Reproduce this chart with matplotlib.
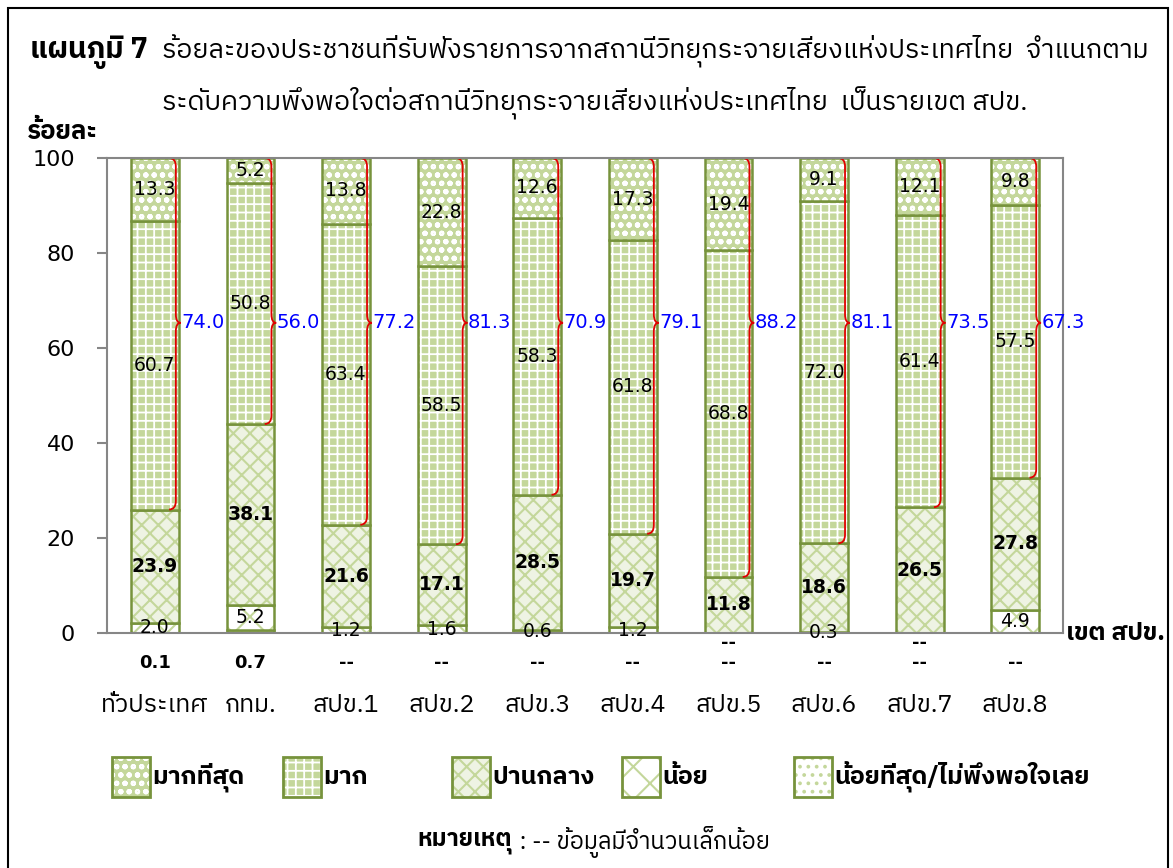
import matplotlib
matplotlib.use('Agg')
import matplotlib.pyplot as plt
from matplotlib import font_manager
from matplotlib.ft2font import FT2Font
from matplotlib.path import Path
from matplotlib.patches import PathPatch, Rectangle

# ข้อมูล (ร้อยละ) อ่านจากแผนภูมิ  None = "--" ข้อมูลมีจำนวนเล็กน้อย
categories = ['ทั่วประเทศ', 'กทม.', 'สปข.1', 'สปข.2', 'สปข.3',
              'สปข.4', 'สปข.5', 'สปข.6', 'สปข.7', 'สปข.8']
most = [13.3, 5.2, 13.8, 22.8, 12.6, 17.3, 19.4, 9.1, 12.1, 9.8]
much = [60.7, 50.8, 63.4, 58.5, 58.3, 61.8, 68.8, 72.0, 61.4, 57.5]
medium = [23.9, 38.1, 21.6, 17.1, 28.5, 19.7, 11.8, 18.6, 26.5, 27.8]
little = [2.0, 5.2, 1.2, 1.6, 0.6, 1.2, None, 0.3, None, 4.9]
least = [0.1, 0.7, None, None, None, None, None, None, None, None]
top_two = [74.0, 56.0, 77.2, 81.3, 70.9, 79.1, 88.2, 81.1, 73.5, 67.3]

legend_labels = ['มากที่สุด', 'มาก', 'ปานกลาง', 'น้อย', 'น้อยที่สุด/ไม่พึงพอใจเลย']
yticks = [0, 20, 40, 60, 80, 100]


# หาฟอนต์ที่มีอักษรไทย
def find_thai_font():
    found = []
    for f in font_manager.fontManager.ttflist:
        try:
            if 0x0E01 in FT2Font(f.fname).get_charmap():
                found.append(f.name)
        except Exception:
            pass
    found.sort(key=lambda n: ('Thai' not in n, 'Serif' in n, n))
    return found[0] if found else 'DejaVu Sans'


thai = find_thai_font()
plt.rcParams['font.family'] = [thai, 'DejaVu Sans']

W, H = 1173, 868
fig = plt.figure(figsize=(W / 100, H / 100), dpi=100)
ax = fig.add_axes([107 / W, 1 - 633 / H, (1063 - 107) / W, (633 - 158) / H])

edge = '#77933c'
green = '#c4d79b'
# (สีพื้น, สีลาย, ลาย, ความหนาลาย) จากล่างขึ้นบน
styles = [
    ('white', green, '..', 1.5),       # น้อยที่สุด
    ('white', green, 'x', 1.5),        # น้อย
    ('#eef3e3', green, 'xx', 1.5),     # ปานกลาง
    (green, 'white', '++', 1.3),       # มาก
    (green, 'white', 'oo', 1.5),       # มากที่สุด
]
series = [least, little, medium, much, most]

x = list(range(len(categories)))
bottom = [0.0] * len(categories)
bottoms = []
for vals, (fc, hc, h, hlw) in zip(series, styles):
    v = [0 if a is None else a for a in vals]
    bottoms.append(list(bottom))
    with plt.rc_context({'hatch.linewidth': hlw}):
        ax.bar(x, v, 0.5, bottom=bottom, color=fc, edgecolor=hc, hatch=h, linewidth=0)
    ax.bar(x, v, 0.5, bottom=bottom, fill=False, edgecolor=edge, linewidth=1.8)
    bottom = [b + a for b, a in zip(bottom, v)]

num = 'DejaVu Sans'
# ตัวเลขในแท่ง
for i in x:
    for k, vals in enumerate(series):
        val = vals[i]
        b = bottoms[k][i]
        if k == 0:
            txt = '--' if val is None else f'{val:.1f}'
            ax.text(i, -6.3, txt, ha='center', va='center', fontsize=13,
                    fontweight='bold', family=num, clip_on=False)
        elif val is None:
            ax.text(i, -2.1, '--', ha='center', va='center', fontsize=13,
                    fontweight='bold', family=num, clip_on=False)
        else:
            ax.text(i, b + val / 2, f'{val:.1f}', ha='center', va='center',
                    fontsize=13.5, family=num,
                    fontweight='bold' if k == 2 else 'normal')


# วงเล็บปีกกาสีแดง (มากที่สุด + มาก)
def brace(xr, y0, y1, ytip, dx=0.07, dy=1.8, tip=0.05):
    verts = [(xr - dx, y1), (xr, y1), (xr, y1 - dy),
             (xr, ytip + dy), (xr, ytip), (xr + tip, ytip),
             (xr, ytip), (xr, ytip - dy),
             (xr, y0 + dy), (xr, y0), (xr - dx, y0)]
    codes = [Path.MOVETO, Path.CURVE3, Path.CURVE3,
             Path.LINETO, Path.CURVE3, Path.CURVE3,
             Path.CURVE3, Path.CURVE3,
             Path.LINETO, Path.CURVE3, Path.CURVE3]
    ax.add_patch(PathPatch(Path(verts, codes), fill=False, edgecolor='#e00000',
                           linewidth=1.3, clip_on=False))


tip_y = 65.3
for i in x:
    y0 = bottoms[3][i]
    brace(i + 0.22, y0, 100, tip_y)
    ax.text(i + 0.275, tip_y, f'{top_two[i]:.1f}', ha='left', va='center',
            fontsize=14, color='#0000ff', family=num)

ax.set_xlim(-0.5, len(categories) - 0.5)
ax.set_ylim(0, 100)
ax.set_yticks(yticks)
ax.set_yticklabels([str(t) for t in yticks], fontsize=16, family=num)
ax.set_xticks(x)
ax.set_xticklabels(categories, fontsize=18)
ax.tick_params(axis='x', length=0, pad=44)
ax.tick_params(axis='y', length=7, width=1.5, color='#868686', pad=16)
for s in ax.spines.values():
    s.set_color('#868686')
    s.set_linewidth(1.5)

# ข้อความประกอบ
fig.text(30 / W, 1 - 58 / H, 'แผนภูมิ 7', fontsize=21, fontweight='bold', va='baseline')
fig.text(162 / W, 1 - 58 / H,
         'ร้อยละของประชาชนที่รับฟังรายการจากสถานีวิทยุกระจายเสียงแห่งประเทศไทย  จำแนกตาม',
         fontsize=19.3, va='baseline')
fig.text(162 / W, 1 - 110 / H,
         'ระดับความพึงพอใจต่อสถานีวิทยุกระจายเสียงแห่งประเทศไทย  เป็นรายเขต สปข.',
         fontsize=19.3, va='baseline')
fig.text(27 / W, 1 - 139 / H, 'ร้อยละ', fontsize=18.5, fontweight='bold', va='baseline')
fig.text(1066 / W, 1 - 633 / H, 'เขต สปข.', fontsize=18, fontweight='bold', va='center')

# คำอธิบายสัญลักษณ์
leg_x = [112, 283, 452, 622, 794]
leg_styles = styles[::-1]
for lx, lab, (fc, hc, h, hlw) in zip(leg_x, legend_labels, leg_styles):
    with plt.rc_context({'hatch.linewidth': hlw}):
        fig.patches.append(Rectangle((lx / W, 1 - 797 / H), 38 / W, 40 / H,
                                     transform=fig.transFigure, facecolor=fc,
                                     edgecolor=hc, hatch=h, linewidth=0))
    fig.patches.append(Rectangle((lx / W, 1 - 797 / H), 38 / W, 40 / H,
                                 transform=fig.transFigure, fill=False,
                                 edgecolor=edge, linewidth=2))
    fig.text((lx + 40) / W, 1 - 777 / H, lab, fontsize=18, fontweight='bold',
             va='center')

fig.text(512 / W, 1 - 842 / H, 'หมายเหตุ', fontsize=17, fontweight='bold',
         ha='right', va='center')
fig.text(514 / W, 1 - 842 / H, ' : -- ข้อมูลมีจำนวนเล็กน้อย', fontsize=17,
         ha='left', va='center')

# กรอบรอบรูป
fig.patches.append(Rectangle((8 / W, -0.01), 1160 / W, 1 - 8 / H + 0.01,
                             transform=fig.transFigure, fill=False,
                             edgecolor='black', linewidth=1.5))

fig.savefig('out.png', dpi=100)
